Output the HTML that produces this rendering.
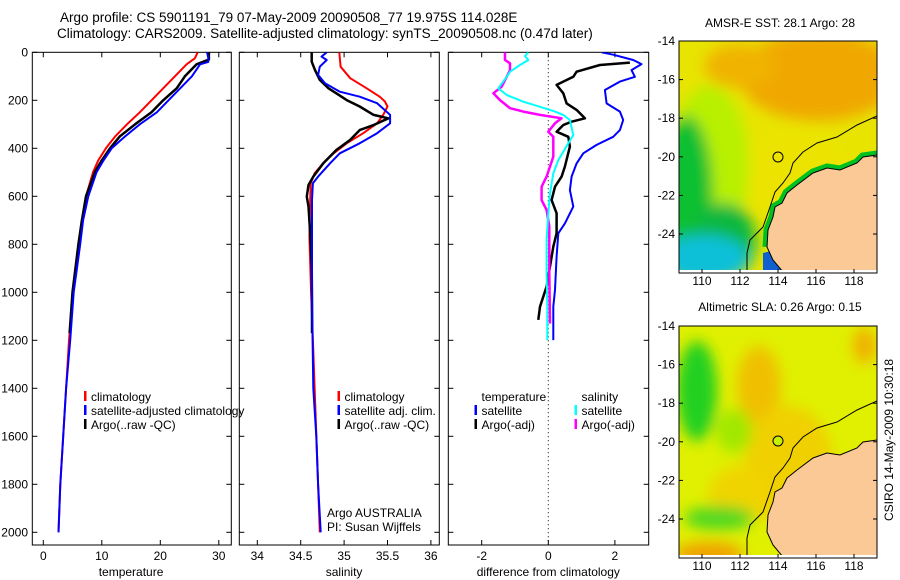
<!DOCTYPE html>
<html><head><meta charset="utf-8">
<style>
html,body{margin:0;padding:0;background:#fff;}
svg{display:block;font-family:"Liberation Sans",sans-serif;}
</style></head>
<body>
<svg id="chart" width="900" height="580" viewBox="0 0 900 580" xmlns="http://www.w3.org/2000/svg">
<defs>
<clipPath id="c1"><rect x="32.3" y="52.3" width="199" height="492.7"/></clipPath>
<clipPath id="c2"><rect x="239.3" y="52.3" width="200" height="492.7"/></clipPath>
<clipPath id="c3"><rect x="448.3" y="52.3" width="200.4" height="492.7"/></clipPath>
<clipPath id="cm"><rect x="0" y="0" width="198" height="232"/></clipPath>
<filter id="blur" x="-50%" y="-50%" width="200%" height="200%"><feGaussianBlur stdDeviation="7"/></filter>
</defs>
<g font-size="13.5" fill="#000">
<text x="60" y="22">Argo profile: CS 5901191_79 07-May-2009 20090508_77 19.975S 114.028E</text>
<text x="57" y="38">Climatology: CARS2009. Satellite-adjusted climatology: synTS_20090508.nc (0.47d later)</text>
</g>
<g id="plots"></g>

<!-- Map 1 -->
<g transform="translate(679,41)">
<g clip-path="url(#cm)">
<rect width="198" height="232" fill="#e8e400"/>
<g filter="url(#blur)">
<ellipse cx="140" cy="35" rx="80" ry="45" fill="#f0a800"/>
<ellipse cx="60" cy="25" rx="35" ry="22" fill="#f0b400"/>
<ellipse cx="115" cy="130" rx="50" ry="40" fill="#ece400"/>
<ellipse cx="30" cy="125" rx="40" ry="80" fill="#b8f000"/>
<ellipse cx="8" cy="155" rx="26" ry="80" fill="#10c030"/>
<ellipse cx="45" cy="200" rx="32" ry="38" fill="#10b840"/>
<ellipse cx="25" cy="218" rx="45" ry="24" fill="#10c0d8"/>
</g>
<polyline points="198,114 184,116 178,122 161,129 148,127 134,132 118,144 108,152 103,162 96,166 94,176 89,189 88,206" fill="none" stroke="#00c020" stroke-width="9"/>
<polygon points="84,212 92,210 104,231 84,231" fill="#1060d0"/>
<polygon points="198,114 184,116 178,122 161,129 148,127 134,132 118,144 108,152 103,162 96,166 94,176 89,189 88,206 94,219 104,231 198,231" fill="#fbc996" stroke="#000" stroke-width="1"/>
<polyline points="198,75 178,84 158,96 138,102 124,111 114,122 111,132 104,142 96,151 91,166 84,186 71,199 68,212 68,231" fill="none" stroke="#000" stroke-width="1"/>
<rect x="0" y="229" width="198" height="3" fill="#fff"/>
</g>
<rect width="198" height="232" fill="none" stroke="#000" stroke-width="1"/>
<circle cx="99" cy="116" r="5" fill="none" stroke="#000"/>
</g>
<text x="780" y="27" font-size="12" text-anchor="middle">AMSR-E SST: 28.1 Argo: 28</text>

<!-- Map 2 -->
<g transform="translate(679,326)">
<g clip-path="url(#cm)">
<rect width="198" height="232" fill="#e0f000"/>
<g filter="url(#blur)">
<ellipse cx="80" cy="60" rx="22" ry="40" fill="#f0c000"/>
<ellipse cx="110" cy="140" rx="45" ry="60" fill="#f0d000"/>
<ellipse cx="60" cy="170" rx="30" ry="30" fill="#f0d400"/>
<ellipse cx="150" cy="40" rx="35" ry="30" fill="#e0f000"/>
<ellipse cx="185" cy="20" rx="12" ry="18" fill="#f0b000"/>
<ellipse cx="18" cy="65" rx="20" ry="50" fill="#20d020"/>
<ellipse cx="55" cy="105" rx="18" ry="22" fill="#a0e800"/>
<ellipse cx="40" cy="192" rx="35" ry="12" fill="#50d820"/>
<ellipse cx="30" cy="228" rx="35" ry="12" fill="#f0a000"/>
</g>
<polygon points="198,114 184,116 178,122 161,129 148,127 134,132 118,144 108,152 103,162 96,166 94,176 89,189 88,206 94,219 104,231 198,231" fill="#fbc996" stroke="#000" stroke-width="1"/>
<polyline points="198,75 178,84 158,96 138,102 124,111 114,122 111,132 104,142 96,151 91,166 84,186 71,199 68,212 68,231" fill="none" stroke="#000" stroke-width="1"/>
<rect x="0" y="229" width="198" height="3" fill="#fff"/>
</g>
<rect width="198" height="232" fill="none" stroke="#000" stroke-width="1"/>
<circle cx="99" cy="115" r="5" fill="#c8f000" stroke="#000"/>
</g>
<text x="780" y="311" font-size="12" text-anchor="middle">Altimetric SLA: 0.26 Argo: 0.15</text>
<text transform="translate(893,440) rotate(-90)" font-size="12" text-anchor="middle">CSIRO 14-May-2009 10:30:18</text>
<g id="maptick"></g>
</svg>
<script>
// ---- data ----
const depthTicks = [0,200,400,600,800,1000,1200,1400,1600,1800,2000];
const tempTicks = [0,10,20,30];
const salTicks = [34,34.5,35,35.5,36];
const salTickLabels = ["34","34.5","35","35.5","36"];
const diffTicks = [-2,0,2];
const latTicks = [-14,-16,-18,-20,-22,-24];
const lonTicks = [110,112,114,116,118];

const tClimD = [0,25,50,100,150,200,250,300,350,400,450,500,600,700,800,1000,1200,1400,1600,1800,2000];
const tClimV = [26.4,25.9,24.5,22.5,20.5,18.5,16.5,14.3,12.3,10.7,9.4,8.5,7.3,6.6,6.0,5.1,4.4,3.9,3.4,2.9,2.6];
const tSatD = [0,25,40,50,100,150,200,250,300,350,400,450,500,600,700,800,1000,1200,1400,1600,1800,2000];
const tSatV = [28,28.2,28.2,26.8,25.4,23.4,21.4,19.4,16.5,14,11.7,10.3,9.1,7.7,6.8,6.3,5.2,4.6,3.9,3.4,2.9,2.6];
const tArgoD = [0,30,50,100,150,200,250,300,350,400,450,500,600,700,800,1000,1100,1170];
const tArgoV = [28.3,28.3,26.2,24.2,22.8,20.5,18.5,15.7,13.1,11.4,10,8.8,7.3,6.6,6.0,5.0,4.7,4.5];

const sClimD = [0,60,108,150,185,205,226,261,296,337,379,421,462,504,546,615,768,1000,1200,1500,2000];
const sClimV = [34.945,34.96,35.07,35.26,35.41,35.47,35.50,35.45,35.38,35.22,35.03,34.88,34.76,34.66,34.615,34.61,34.60,34.62,34.64,34.67,34.72];
const sSatD = [0,18,32,60,94,129,164,185,212,261,296,337,379,421,462,518,546,615,893,1032,1400,1600,1800,2000];
const sSatV = [34.80,34.74,34.80,34.72,34.70,34.78,34.95,35.18,35.38,35.53,35.53,35.38,35.18,34.95,34.84,34.70,34.64,34.63,34.63,34.63,34.645,34.68,34.70,34.73];
const sArgoD = [0,39,74,115,150,171,199,226,261,275,303,324,365,407,462,518,553,601,643,754,893,1032,1170];
const sArgoV = [34.627,34.627,34.665,34.72,34.82,34.91,35.03,35.18,35.34,35.51,35.34,35.18,35.07,34.91,34.76,34.645,34.59,34.57,34.59,34.61,34.627,34.63,34.63];

const dTSatD = [0,10,32,49,74,102,122,157,213,247,282,324,352,386,421,463,518,574,643,713,754,851,990,1060,1199];
const dTSatV = [1.60,1.95,2.55,2.80,2.50,2.60,2.15,1.70,1.75,2.15,2.25,2.15,1.95,1.45,1.05,0.85,0.70,0.65,0.75,0.50,0.30,0.25,0.20,0.15,0.15];
const dTArgoD = [43,53,81,102,136,171,213,240,275,289,303,331,352,393,476,518,560,616,671,754,810,893,976,1060,1115];
const dTArgoV = [2.45,1.55,0.85,0.75,0.25,0.45,0.55,0.85,1.10,0.70,0.45,0.25,0.60,0.65,0.50,0.40,0.20,0.10,0.25,0.25,0.15,0.05,-0.05,-0.25,-0.30];
const dSArgoD = [0,32,46,74,102,143,171,199,233,247,261,275,296,331,352,435,476,518,560,616,657,726,921,1130];
const dSArgoV = [-1.30,-1.30,-1.15,-1.15,-1.25,-1.40,-1.65,-1.45,-1.15,-0.75,-0.25,0.40,0.20,0.0,0.15,0.15,0.05,-0.05,-0.20,-0.20,-0.05,0.03,0.03,0.05];
const dSSatD = [0,16,32,53,81,102,150,178,206,227,247,261,282,345,379,449,504,588,671,782,921,1060,1199];
const dSSatV = [-0.60,-0.70,-0.60,-0.85,-1.15,-1.25,-1.50,-1.25,-0.75,-0.25,0.20,0.45,0.65,0.75,0.60,0.30,0.15,0.05,0.0,-0.05,-0.05,-0.03,-0.03];

// ---- axes ----
const yD = d => 52.3 + d*0.24;
const xT = v => 43.3 + v*5.85;
const xS = v => 257.3 + (v-34)*86.8;
const xDf = v => 548.3 + v*33.3;
const mapY = lat => (-14 - lat)*19.3;
const mapX = lon => 23 + (lon-110)*19;

const NS = "http://www.w3.org/2000/svg";
const root = document.getElementById('plots');
function mk(tag, attrs, parent){
  const e = document.createElementNS(NS, tag);
  for (const k in attrs) e.setAttribute(k, attrs[k]);
  (parent||root).appendChild(e);
  return e;
}
function txt(x,y,s,anchor,parent,size){
  const t = mk('text',{x:x,y:y,'font-size':size||12,'text-anchor':anchor||'start'},parent);
  t.textContent = s;
  return t;
}
function series(name, D, V, xf, color, w, clip){
  const pts = D.map((d,i)=> xf(V[i]).toFixed(1)+','+yD(d).toFixed(1)).join(' ');
  const p = mk('polyline',{points:pts,fill:'none',stroke:color,'stroke-width':w,'stroke-linejoin':'round','clip-path':'url(#'+clip+')'});
  
  
}
function panel(name, x0, x1, clip){
  const g = mk('g',{});
  
  
  const r = mk('rect',{x:x0,y:52.3,width:x1-x0,height:492.7,fill:'#fff',stroke:'#000','stroke-width':1},g);
  
  
  depthTicks.forEach(d=>{
    mk('line',{x1:x0,x2:x0+5,y1:yD(d),y2:yD(d),stroke:'#000'},g);
    mk('line',{x1:x1-5,x2:x1,y1:yD(d),y2:yD(d),stroke:'#000'},g);
  });
  return g;
}
function xticks(g, ticks, labels, xf, label){
  ticks.forEach((v,i)=>{
    const x = xf(v);
    mk('line',{x1:x,x2:x,y1:545,y2:540,stroke:'#000'},g);
    mk('line',{x1:x,x2:x,y1:52.3,y2:57.3,stroke:'#000'},g);
    const t = txt(x,560,labels[i],'middle',g);
    
    
  });
  const t = txt((xf(ticks[0])+xf(ticks[ticks.length-1]))/2,576,label,'middle',g);
  
  
}

// Panel 1: temperature
const g1 = panel('temperature-panel', 32.3, 231.3, 'c1');
depthTicks.forEach(d=>{
  const t = txt(28, yD(d)+4, String(d), 'end', g1);
  
  
});
xticks(g1, tempTicks, tempTicks.map(String), xT, 'temperature');
series('temp-climatology', tClimD, tClimV, xT, '#ff0000', 2, 'c1');
series('temp-argo', tArgoD, tArgoV, xT, '#000', 2.5, 'c1');
series('temp-satellite-adjusted', tSatD, tSatV, xT, '#0000ff', 2, 'c1');

// Panel 2: salinity
const g2 = panel('salinity-panel', 239.3, 439.3, 'c2');
xticks(g2, salTicks, salTickLabels, xS, 'salinity');
series('sal-climatology', sClimD, sClimV, xS, '#ff0000', 2, 'c2');
series('sal-argo', sArgoD, sArgoV, xS, '#000', 2.5, 'c2');
series('sal-satellite-adjusted', sSatD, sSatV, xS, '#0000ff', 2, 'c2');

// Panel 3: differences
const g3 = panel('difference-panel', 448.3, 648.7, 'c3');
xticks(g3, diffTicks, diffTicks.map(String), xDf, 'difference from climatology');
const zl = mk('line',{x1:xDf(0),x2:xDf(0),y1:52.3,y2:545,stroke:'#000','stroke-dasharray':'1,3'});


series('diff-temp-satellite', dTSatD, dTSatV, xDf, '#0000ff', 2, 'c3');
series('diff-temp-argo', dTArgoD, dTArgoV, xDf, '#000', 2.5, 'c3');
series('diff-sal-argo', dSArgoD, dSArgoV, xDf, '#ff00ff', 2.5, 'c3');
series('diff-sal-satellite', dSSatD, dSSatV, xDf, '#00ffff', 2, 'c3');

// Legends
function legend(x, y, color, label, parent){
  if (color) mk('rect',{x:x-7,y:y-10,width:2.5,height:10,fill:color},parent);
  const t = txt(x,y,label,'start',parent);
  
  
}
const l1 = mk('g',{});


legend(91,401,'#ff0000','climatology',l1);
legend(91,415,'#0000ff','satellite-adjusted climatology',l1);
legend(91,429,'#000','Argo(..raw -QC)',l1);
const l2 = mk('g',{});


legend(344.5,401,'#ff0000','climatology',l2);
legend(344.5,415,'#0000ff','satellite adj. clim.',l2);
legend(344.5,429,'#000','Argo(..raw -QC)',l2);
const pi = mk('g',{});


txt(327,517,'Argo AUSTRALIA','start',pi);
txt(327,531,'PI: Susan Wijffels','start',pi);
const l3 = mk('g',{});


legend(481.5,401,null,'temperature',l3);
legend(481.5,415,'#0000ff','satellite',l3);
legend(481.5,429,'#000','Argo(-adj)',l3);
legend(581.5,401,null,'salinity',l3);
legend(581.5,415,'#00ffff','satellite',l3);
legend(581.5,429,'#ff00ff','Argo(-adj)',l3);

// Map ticks
const mt = document.getElementById('maptick');
[[679,41,285],[679,326,570]].forEach(([ox,oy,ly])=>{
  latTicks.forEach(lat=>{
    const y = oy + mapY(lat);
    mk('line',{x1:ox,x2:ox+4,y1:y,y2:y,stroke:'#000'},mt);
    mk('line',{x1:ox+194,x2:ox+198,y1:y,y2:y,stroke:'#000'},mt);
    const t = txt(ox-4,y+4,String(lat),'end',mt);
    
    
  });
  lonTicks.forEach(lon=>{
    const x = ox + mapX(lon);
    mk('line',{x1:x,x2:x,y1:oy+232,y2:oy+228,stroke:'#000'},mt);
    const t = txt(x,ly,String(lon),'middle',mt);
    
    
  });
});
</script>
</body></html>
